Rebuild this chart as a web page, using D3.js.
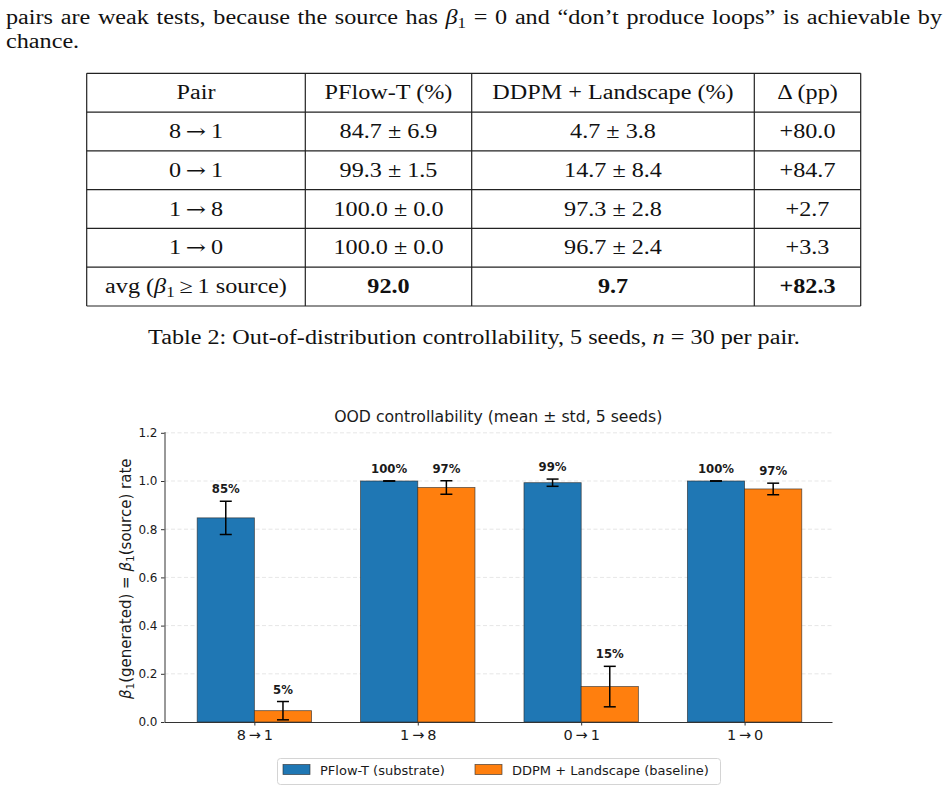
<!DOCTYPE html>
<html lang="en">
<head>
<meta charset="UTF-8">
<script src="https://d3js.org/d3.v7.min.js"></script>
<style>
    body { margin: 0; background: #fff; overflow: hidden; }
    svg { display: block; }
    .sans { font-family: "DejaVu Sans", sans-serif; fill: #1a1a1a; }
</style>
</head>
<body>
<svg id="page" width="948" height="789"></svg>
<script>
// ---- data ----
const pairs = ["8→1", "1→8", "0→1", "1→0"];          // chart order
const pflowMean = [84.7, 100.0, 99.3, 100.0];        // %
const pflowStd  = [6.9, 0.0, 1.5, 0.0];
const ddpmMean  = [4.7, 97.3, 14.7, 96.7];
const ddpmStd   = [3.8, 2.8, 8.4, 2.4];
const seriesNames = ["PFlow-T (substrate)", "DDPM + Landscape (baseline)"];
const yTicks = [0, 0.2, 0.4, 0.6, 0.8, 1.0, 1.2];

const tableHeader = ["Pair", "PFlow-T (%)", "DDPM + Landscape (%)", "Δ (pp)"];
const tableOrder = ["8→1", "0→1", "1→8", "1→0"];
const tableDelta = ["+80.0", "+84.7", "+2.7", "+3.3"];
const avgRow = ["92.0", "9.7", "+82.3"];

const SERIF = '"Liberation Serif", "Times New Roman", serif';
const svg = d3.select("#page");

// serif glyphs are narrower than Computer Modern, so stretch them a bit
const probe = svg.append("text").attr("font-family", SERIF).attr("font-size", 20)
    .text("Table 2: Out-of-distribution controllability, 5 seeds, n = 30 per pair.");
const sx = 652 / probe.node().getComputedTextLength();
probe.remove();

function mathText(parent, x, y, parts, anchor) {
    const g = parent.append("g").attr("transform", `translate(${x},${y}) scale(${sx},1)`);
    const t = g.append("text")
        .attr("text-anchor", anchor || "middle")
        .attr("font-family", SERIF)
        .attr("font-size", 20)
        .attr("fill", "#111");
    let shift = 0;
    parts.forEach(p => {
        if (typeof p === "string") p = { t: p };
        const ts = t.append("tspan").text(p.t);
        if (p.i) ts.attr("font-style", "italic");
        if (p.b) ts.attr("font-weight", "bold");
        if (p.f) ts.attr("font-family", p.f);
        const want = p.sub ? 4 : 0;
        if (want !== shift) { ts.attr("dy", want - shift); shift = want; }
        if (p.sub) ts.attr("font-size", 14);
    });
    return t;
}

// ---- paragraph ----
const line1 = mathText(svg, 6, 24, ["pairs are weak tests, because the source has ",
    { t: "β", i: true }, { t: "1", sub: true },
    " = 0 and “don’t produce loops” is achievable by"], "start");
const nSpaces = line1.text().split(" ").length - 1;
line1.attr("word-spacing", (936 / sx - line1.node().getComputedTextLength()) / nSpaces);
mathText(svg, 6, 48, ["chance."], "start");

// ---- table ----
const colX = [86.7, 305.3, 471.7, 754.3, 860.7];
const rowY = d3.scaleLinear().domain([0, 6]).range([73.3, 306]);
const table = svg.append("g");

table.selectAll(".hl").data(d3.range(7)).enter().append("line")
    .attr("x1", colX[0]).attr("x2", colX[4])
    .attr("y1", d => rowY(d)).attr("y2", d => rowY(d))
    .attr("stroke", "#222").attr("stroke-width", 1.2);
table.selectAll(".vl").data(colX).enter().append("line")
    .attr("x1", d => d).attr("x2", d => d)
    .attr("y1", rowY(0)).attr("y2", rowY(6))
    .attr("stroke", "#222").attr("stroke-width", 1.2);

const colMid = i => (colX[i] + colX[i + 1]) / 2;
const rowBase = r => (rowY(r) + rowY(r + 1)) / 2 + 6.5;
const fmt1 = d3.format(".1f");
const pm = (m, s) => `${fmt1(m)} ± ${fmt1(s)}`;

tableHeader.forEach((h, c) => mathText(table, colMid(c), rowBase(0), [h]));
tableOrder.forEach((p, r) => {
    const k = pairs.indexOf(p);
    const [a, b] = p.split("→");
    mathText(table, colMid(0), rowBase(r + 1), [a + "\u2009", { t: "→", f: "DejaVu Serif" }, "\u2009" + b]);
    mathText(table, colMid(1), rowBase(r + 1), [pm(pflowMean[k], pflowStd[k])]);
    mathText(table, colMid(2), rowBase(r + 1), [pm(ddpmMean[k], ddpmStd[k])]);
    mathText(table, colMid(3), rowBase(r + 1), [tableDelta[r]]);
});
mathText(table, colMid(0), rowBase(5), ["avg (", { t: "β", i: true }, { t: "1", sub: true }, "\u2009≥\u20091 source)"]);
avgRow.forEach((v, c) => mathText(table, colMid(c + 1), rowBase(5), [{ t: v, b: true }]));

mathText(svg, 474, 344, ["Table 2: Out-of-distribution controllability, 5 seeds, ",
    { t: "n", i: true }, " = 30 per pair."]);

// ---- chart ----
const x = d3.scaleLinear().domain([-0.55, 3.535]).range([164.5, 832]);
const y = d3.scaleLinear().domain([0, 1.205]).range([722, 722 - 1.205 * 241]);
const barW = 0.35;
const chart = svg.append("g");

chart.selectAll(".grid").data(yTicks.slice(1)).enter().append("line")
    .attr("x1", x.range()[0]).attr("x2", x.range()[1])
    .attr("y1", d => y(d)).attr("y2", d => y(d))
    .attr("stroke", "#b0b0b0").attr("stroke-opacity", 0.4)
    .attr("stroke-width", 0.8).attr("stroke-dasharray", "4,2.5");

const series = [
    { name: seriesNames[0], color: "#1f77b4", mean: pflowMean, std: pflowStd, off: -0.5 },
    { name: seriesNames[1], color: "#ff7f0e", mean: ddpmMean, std: ddpmStd, off: 0.5 }
];
const bars = series.flatMap(s => pairs.map((p, i) => ({
    color: s.color, cx: i + s.off * barW, m: s.mean[i] / 100, e: s.std[i] / 100, raw: s.mean[i]
})));

chart.selectAll(".bar").data(bars).enter().append("rect")
    .attr("x", d => x(d.cx - barW / 2))
    .attr("width", x(barW) - x(0))
    .attr("y", d => y(d.m))
    .attr("height", d => y(0) - y(d.m))
    .attr("fill", d => d.color)
    .attr("stroke", "#2a2a2a").attr("stroke-opacity", 0.75).attr("stroke-width", 0.8);

const err = chart.selectAll(".err").data(bars).enter().append("g")
    .attr("stroke", "#000").attr("stroke-width", 1.5);
err.append("line")
    .attr("x1", d => x(d.cx)).attr("x2", d => x(d.cx))
    .attr("y1", d => y(d.m - d.e)).attr("y2", d => y(d.m + d.e));
[-1, 1].forEach(sg => err.append("line")
    .attr("x1", d => x(d.cx) - 6).attr("x2", d => x(d.cx) + 6)
    .attr("y1", d => y(d.m + sg * d.e)).attr("y2", d => y(d.m + sg * d.e)));

chart.selectAll(".val").data(bars).enter().append("text")
    .attr("class", "sans")
    .attr("x", d => x(d.cx)).attr("y", d => y(d.m + d.e) - 8)
    .attr("text-anchor", "middle")
    .attr("font-size", 11.7).attr("font-weight", "bold")
    .text(d => Math.round(d.raw) + "%");

const yAxis = chart.append("g")
    .attr("transform", `translate(${x.range()[0]},0)`)
    .call(d3.axisLeft(y).tickValues(yTicks).tickFormat(d3.format(".1f"))
        .tickSize(3.5).tickSizeOuter(0).tickPadding(3.5));
const xAxis = chart.append("g")
    .attr("transform", `translate(0,${y(0)})`)
    .call(d3.axisBottom(x).tickValues(d3.range(pairs.length))
        .tickFormat(i => pairs[i].replace("→", "\u2009→\u2009"))
        .tickSize(3.5).tickSizeOuter(0).tickPadding(4));
[yAxis, xAxis].forEach(a => {
    a.attr("font-family", null).attr("font-size", null);
    a.select(".domain").attr("stroke", "#333").attr("stroke-width", 1);
    a.selectAll(".tick line").attr("stroke", "#333");
    a.selectAll("text").attr("font-family", "DejaVu Sans").attr("fill", "#1a1a1a");
});
yAxis.selectAll("text").style("font-size", "12px");
xAxis.selectAll("text").style("font-size", "14.5px");

chart.append("text").attr("class", "sans")
    .attr("x", (x.range()[0] + x.range()[1]) / 2).attr("y", 422)
    .attr("text-anchor", "middle").attr("font-size", 15.7)
    .text("OOD controllability (mean ± std, 5 seeds)");

const yl = chart.append("text").attr("class", "sans")
    .attr("transform", `translate(131,${(y(0) + y.range()[1]) / 2 + 2}) rotate(-90)`)
    .attr("text-anchor", "middle").attr("font-size", 15);
yl.append("tspan").attr("font-style", "italic").text("β");
yl.append("tspan").attr("font-size", 10.5).attr("dy", 3).text("1");
yl.append("tspan").attr("dy", -3).text("(generated) = ");
yl.append("tspan").attr("font-style", "italic").text("β");
yl.append("tspan").attr("font-size", 10.5).attr("dy", 3).text("1");
yl.append("tspan").attr("dy", -3).text("(source) rate");

// legend
const leg = chart.append("g");
leg.append("rect").attr("x", 277.5).attr("y", 758.5).attr("width", 443).attr("height", 26)
    .attr("rx", 3).attr("fill", "#fff").attr("stroke", "#d4d4d4");
const legX = [283, 475];
series.forEach((s, i) => {
    leg.append("rect").attr("x", legX[i]).attr("y", 764.5).attr("width", 27).attr("height", 10)
        .attr("fill", s.color).attr("stroke", "#2a2a2a").attr("stroke-opacity", 0.75).attr("stroke-width", 0.8);
    leg.append("text").attr("class", "sans").attr("x", legX[i] + 37).attr("y", 774.5)
        .attr("font-size", 13).text(s.name);
});
</script>
</body>
</html>
